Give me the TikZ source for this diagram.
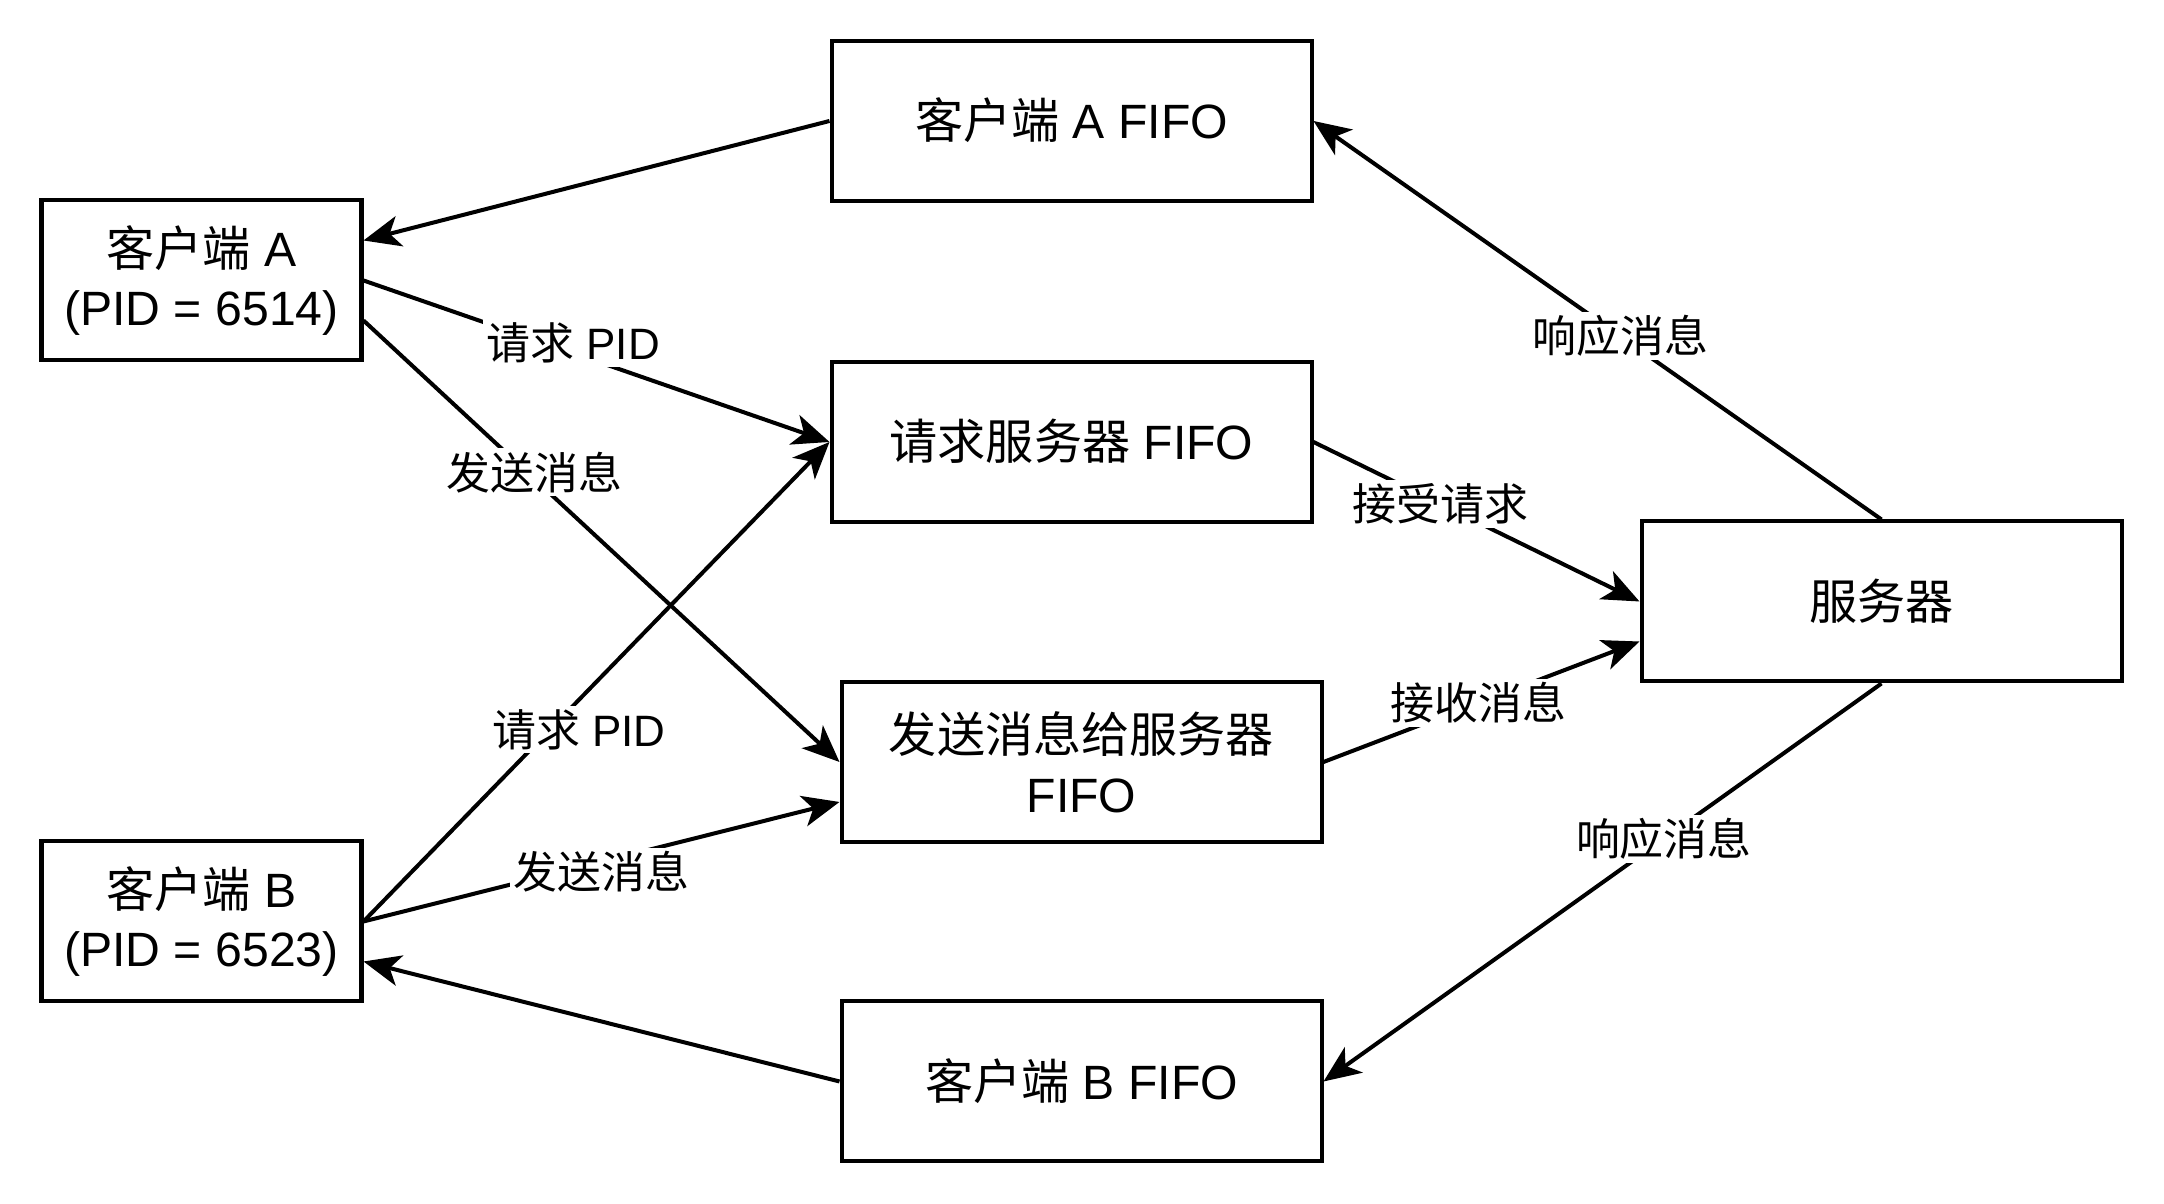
\documentclass[tikz,border=0pt]{standalone}
\usepackage{fontspec}
\setmainfont{Liberation Sans}
\newfontfamily\cjk{Noto Sans CJK SC}
\usetikzlibrary{arrows.meta,positioning}
\newcommand{\boxfont}{\fontsize{13.7}{17}\selectfont}
\newcommand{\msgfont}{\fontsize{12.5}{15}\selectfont}
\tikzset{
    bigbox/.style={
           rectangle,
           draw=black,
           minimum width=4.8cm,
           minimum height=1.6cm,
           align=center,
           font=\boxfont
           },
    smallbox/.style={
           bigbox,
           minimum width=3.2cm
           },
    msg/.style={
           fill=white,
           inner sep=1pt,
           font=\msgfont
           }
}

\begin{document}
\begin{tikzpicture}[>={Stealth[length=0.37cm,width=0.31cm,inset=0.1cm]}, line width=1.14pt]
   \useasboundingbox (0,0) rectangle (21.64,12.04);
   % clients
   \node[smallbox] (cA) at (2.015,9.235) {{\cjk 客户端} A\\(PID = 6514)};
   \node[smallbox] (cB) at (2.015,2.825) {{\cjk 客户端} B\\(PID = 6523)};
   % fifos
   \node[bigbox] (fA) at (10.715,10.83) {\raisebox{0.05cm}{{\cjk 客户端} A FIFO}};
   \node[bigbox] (fReq) at (10.715,7.62) {\raisebox{0.05cm}{{\cjk 请求服务器} FIFO}};
   \node[bigbox] (fSend) at (10.815,4.42) {{\cjk 发送消息给服务器}\\FIFO};
   \node[bigbox] (fB) at (10.815,1.225) {\raisebox{0.04cm}{{\cjk 客户端} B FIFO}};
   % server
   \node[bigbox] (srv) at (18.815,6.025) {\raisebox{0.03cm}{\cjk 服务器}};
   \path[->]
    (fA.west) edge ([yshift=0.4cm]cA.east)
    (cA.east) edge node[msg,pos=0.45,yshift=0.1cm] {{\cjk 请求} PID} (fReq.west)
    ([yshift=-0.4cm]cA.east) edge node[msg,pos=0.36,yshift=0.07cm] {\cjk 发送消息} (fSend.west)
    (cB.east) edge node[msg,pos=0.4,xshift=0.29cm] {{\cjk 请求} PID} (fReq.west)
    (cB.east) edge node[msg,pos=0.5,yshift=-0.1cm] {\cjk 发送消息} ([yshift=-0.4cm]fSend.west)
    (fB.west) edge ([yshift=-0.4cm]cB.east)
    (fReq.east) edge node[msg,pos=0.39] {\cjk 接受请求} (srv.west)
    (fSend.east) edge node[msg,pos=0.49] {\cjk 接收消息} ([yshift=-0.4cm]srv.west)
    (srv.north) edge node[msg,pos=0.46] {\cjk 响应消息} (fA.east)
    (srv.south) edge node[msg,pos=0.39] {\cjk 响应消息} (fB.east);
\end{tikzpicture}
\end{document}
